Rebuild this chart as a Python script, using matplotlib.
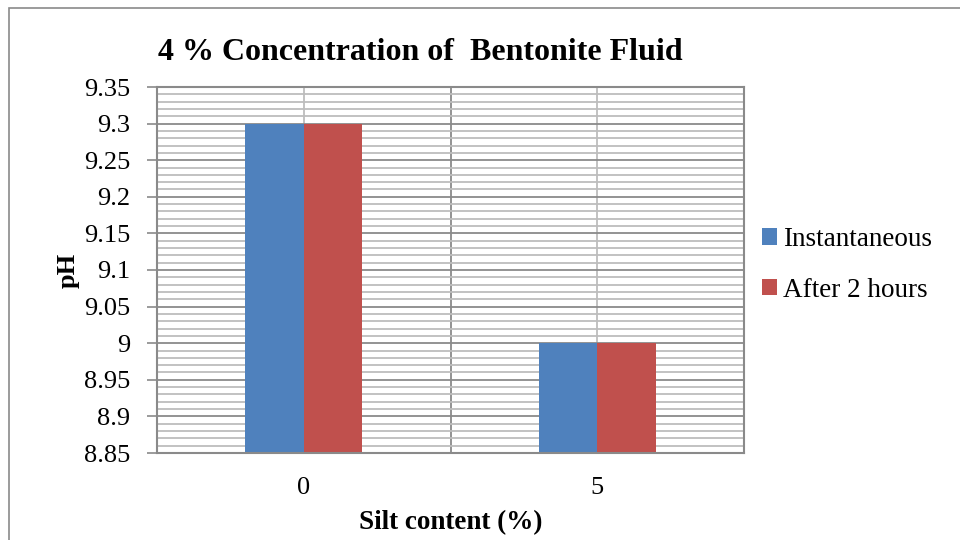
import numpy as np
import matplotlib
matplotlib.use("Agg")
import matplotlib.pyplot as plt
from matplotlib.patches import Rectangle
from matplotlib.ticker import FixedLocator, MultipleLocator

plt.rcParams['font.family'] = ['Liberation Serif', 'DejaVu Serif']

# pH readings of the bentonite fluid
silt_content = ["0", "5"]
instantaneous = [9.3, 9.0]
after_2_hours = [9.3, 9.0]
y_tick_labels = ["8.85", "8.9", "8.95", "9", "9.05", "9.1", "9.15", "9.2", "9.25", "9.3", "9.35"]

blue = "#4F81BD"
red = "#C0504D"
major_grey = "#8A8A8A"
minor_grey = "#BDBDBD"

fig = plt.figure(figsize=(9.6, 5.4), dpi=100)
ax = fig.add_axes([157 / 960, 1 - 453 / 540, 587 / 960, 366 / 540])

x = np.arange(len(silt_content))
width = 0.2
ax.bar(x - width / 2, instantaneous, width, color=blue, label="Instantaneous")
ax.bar(x + width / 2, after_2_hours, width, color=red, label="After 2 hours")

# y axis: major every 0.05, minor every 0.01
y_ticks = [float(t) for t in y_tick_labels]
ax.set_ylim(y_ticks[0], y_ticks[-1])
ax.yaxis.set_major_locator(FixedLocator(y_ticks))
ax.set_yticklabels(y_tick_labels)
ax.yaxis.set_minor_locator(MultipleLocator(0.01))
ax.tick_params(axis='y', which='major', direction='out', length=7, width=1.2,
               color=major_grey, labelsize=19, pad=12)
ax.tick_params(axis='y', which='minor', length=0)

# x axis: categories, gridlines at centres (minor) and between categories (major)
ax.set_xlim(-0.5, len(silt_content) - 0.5)
ax.set_xticks(x)
ax.set_xticklabels(silt_content)
ax.xaxis.set_minor_locator(FixedLocator(x[:-1] + 0.5))
ax.tick_params(axis='x', which='both', length=0, labelsize=19, pad=17)

ax.set_axisbelow(True)
ax.grid(axis='y', which='major', color=major_grey, linewidth=1.3)
ax.grid(axis='y', which='minor', color=minor_grey, linewidth=1.3)
ax.grid(axis='x', which='major', color=minor_grey, linewidth=1.3)
ax.grid(axis='x', which='minor', color=major_grey, linewidth=1.3)

for s in ax.spines.values():
    s.set_color(major_grey)
    s.set_linewidth(1.5)

ax.set_ylabel("pH", fontsize=19, fontweight='bold')
ax.yaxis.label.set_va('center')
ax.yaxis.set_label_coords((68 - 157) / 587, 0.5)
ax.set_xlabel("Silt content (%)", fontsize=19.5, fontweight='bold')
ax.xaxis.label.set_va('center')
ax.xaxis.set_label_coords(0.5, (453 - 523) / 366)

fig.text(420 / 960, 1 - 53 / 540, "4 % Concentration of  Bentonite Fluid",
         fontsize=23, fontweight='bold', ha='center', va='center')

ax.legend(loc='center left', bbox_to_anchor=(762 / 960, 1 - 265 / 540),
          bbox_transform=fig.transFigure, frameon=False, fontsize=19.5,
          handlelength=0.54, handleheight=0.54, handletextpad=0.25,
          labelspacing=0.95, borderpad=0, borderaxespad=0)

# chart area border
fig.patches.append(Rectangle((9 / 960, -0.1), 1.2, 1 - 8 / 540 + 0.1,
                             transform=fig.transFigure, fill=False,
                             edgecolor=major_grey, linewidth=1.2))

fig.savefig("out.png", dpi=100)
